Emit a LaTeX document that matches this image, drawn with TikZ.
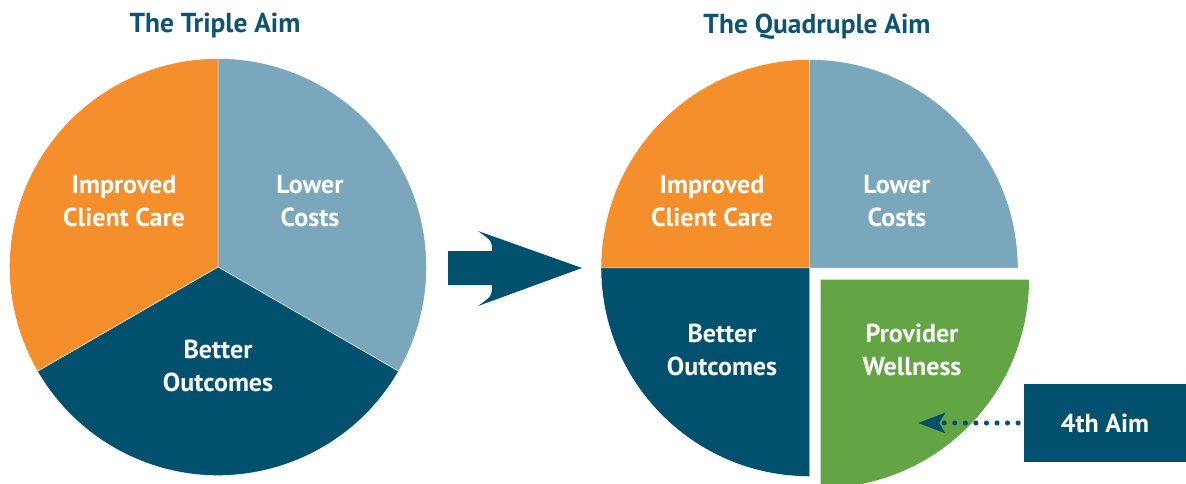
\documentclass[tikz,border=0pt]{standalone}
\usepackage{fontspec}
\setmainfont{PT Sans}
\usepackage{tikz}
\usetikzlibrary{positioning,arrows.meta}

\definecolor{careorange}{HTML}{F58F2C}
\definecolor{costblue}{HTML}{7BA7BD}
\definecolor{aimnavy}{HTML}{00506E}
\definecolor{wellgreen}{HTML}{63A545}
\definecolor{titleblue}{HTML}{0E5472}

\begin{document}
\begin{tikzpicture}[
        x=0.025cm, y=-0.025cm,
        slice/.style={draw=white, line width=0.3pt},
        piecelabel/.style={text=white, align=center, font=\bfseries\fontsize{18.5}{23.4}\selectfont},
        headline/.style={text=titleblue, font=\bfseries\fontsize{19.5}{24}\selectfont},
        aimbox/.style={fill=aimnavy, text=white, minimum width=4.05cm, minimum height=1.95cm,
                       inner sep=0pt, font=\bfseries\fontsize{18.5}{23.4}\selectfont},
        dotline/.style={aimnavy, line width=3.6pt, line cap=round, dash pattern=on 0pt off 7.5pt,
                        -{Stealth[length=19pt, width=14pt, inset=4pt]}}
    ]

    % ---------- 画布 ----------
    \useasboundingbox (0,0) rectangle (1186,483);
    \clip (0,0) rectangle (1186,483);

    % ---------- 参数 ----------
    \def\rad{208.5}
    \coordinate (L) at (218,267);
    \coordinate (R) at (809.5,268);
    \coordinate (G) at (820.5,279.5);

    % ---------- 三重目标 ----------
    \foreach \a/\b/\col in {-90/30/costblue, 30/150/aimnavy, 150/270/careorange} {
        \path[slice, fill=\col] (L) -- ++(\a:\rad) arc[start angle=\a, end angle=\b, radius=\rad] -- cycle;
    }

    % ---------- 四重目标 ----------
    \foreach \a/\b/\col in {180/270/careorange, 270/360/costblue, 90/180/aimnavy} {
        \path[slice, fill=\col] (R) -- ++(\a:\rad) arc[start angle=\a, end angle=\b, radius=\rad] -- cycle;
    }
    \path[fill=wellgreen] (G) -- ++(0:\rad) arc[start angle=0, end angle=90, radius=\rad] -- cycle;

    % ---------- 大箭头 ----------
    \fill[aimnavy] (448,251) -- (492,251) .. controls (492,241) .. (478,231) -- (582,268)
        -- (478,306) .. controls (492,296) .. (492,285) -- (448,285) -- cycle;

    % ---------- 标题 ----------
    \node[headline] (tripletitle) at (215,25) {The Triple Aim};
    \node[headline] (quadtitle) at (817,27) {The Quadruple Aim};

    % ---------- 扇区标签 ----------
    \node[piecelabel] (lcare) at (124,201) {Improved\\Client Care};
    \node[piecelabel] (lcost) at (310,201) {Lower\\Costs};
    \node[piecelabel] (lout) at (218,366) {Better\\Outcomes};

    \node[piecelabel] (rcare) at (712,201) {Improved\\Client Care};
    \node[piecelabel] (rcost) at (897,201) {Lower\\Costs};
    \node[piecelabel] (rout) at (722,350) {Better\\Outcomes};
    \node[piecelabel] (rwell) at (912,350) {Provider\\Wellness};

    % ---------- 第四目标 ----------
    \node[aimbox] (fourth) at (1105,423) {4th Aim};
    \coordinate (welltip) at (918,423);
    \draw[dotline, shorten <=4pt] (fourth.west) -- (welltip);

\end{tikzpicture}
\end{document}
